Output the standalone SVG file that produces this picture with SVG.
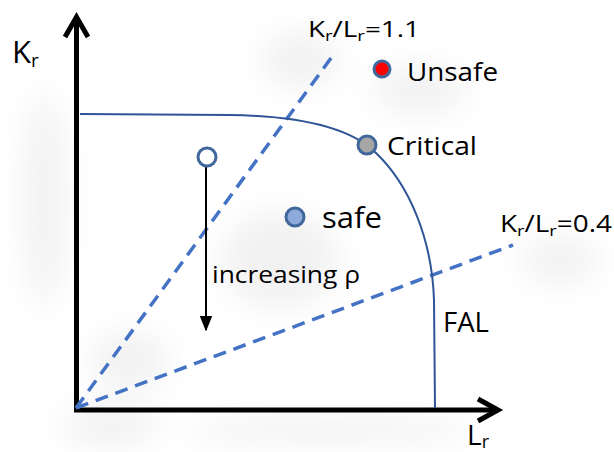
<svg xmlns="http://www.w3.org/2000/svg" width="614" height="452" viewBox="0 0 614 452">
  <style>
    text { font-family: "Open Sans", "Liberation Sans", sans-serif; fill: #000; }
    .axis { stroke: #000; stroke-width: 5; fill: none; }
    .chev { stroke: #000; stroke-width: 5; fill: none; stroke-linecap: butt; stroke-linejoin: miter; }
    .dash { stroke: #4472c4; stroke-width: 3.5; stroke-dasharray: 13 8; fill: none; }
    .fal { stroke: #2f5597; stroke-width: 2; fill: none; }
    .pt { stroke: #41689c; stroke-width: 3; }
  </style>
  <defs>
    <filter id="blur" x="-50%" y="-50%" width="200%" height="200%">
      <feGaussianBlur stdDeviation="16"/>
    </filter>
    <marker id="tri" viewBox="0 0 10 10" refX="9" refY="5" markerWidth="8" markerHeight="8" orient="auto" markerUnits="strokeWidth">
      <path d="M0,1 L10,5 L0,9 z" fill="#000"/>
    </marker>
  </defs>
  <rect width="614" height="452" fill="#fff"/>
  <g id="shadows" filter="url(#blur)" fill="#000" opacity="0.05">
    <ellipse cx="110" cy="425" rx="50" ry="22"/>
    <ellipse cx="330" cy="430" rx="150" ry="14"/>
    <ellipse cx="45" cy="200" rx="22" ry="110"/>
    <ellipse cx="300" cy="60" rx="40" ry="30"/>
    <ellipse cx="420" cy="90" rx="50" ry="25"/>
    <ellipse cx="280" cy="260" rx="60" ry="50"/>
    <ellipse cx="560" cy="260" rx="40" ry="25"/>
    <ellipse cx="130" cy="360" rx="40" ry="30"/>
  </g>
  <g id="axes">
    <line class="axis" x1="76.5" y1="412" x2="76.5" y2="18"/>
    <polyline class="chev" points="65,37 76.5,17 88,37"/>
    <line class="axis" x1="74" y1="410" x2="497" y2="410"/>
    <polyline class="chev" points="478,399 498,410 478,421"/>
  </g>
  <g id="connectors">
    <line class="dash" x1="76" y1="408" x2="334" y2="54"/>
    <line class="dash" x1="76" y1="408" x2="513" y2="245"/>
    <path class="fal" d="M80,114 L230,115 C300,116 350,128 375,152 C410,185 432,240 434,300 L435,408"/>
    <line x1="206" y1="166" x2="206" y2="330" stroke="#000" stroke-width="2" marker-end="url(#tri)"/>
  </g>
  <g id="unsafe">
    <circle class="pt" cx="382" cy="69" r="8" fill="#ff0000"/>
    <text x="407" y="81" font-size="25" textLength="91" lengthAdjust="spacingAndGlyphs">Unsafe</text>
  </g>
  <g id="critical">
    <circle class="pt" cx="367" cy="145" r="9" fill="#a6a6a6"/>
    <text x="387" y="155" font-size="25" textLength="90" lengthAdjust="spacingAndGlyphs">Critical</text>
  </g>
  <g id="safe">
    <circle class="pt" cx="295" cy="217" r="9" fill="#8eaadb"/>
    <text x="322" y="228" font-size="29" textLength="60" lengthAdjust="spacingAndGlyphs">safe</text>
  </g>
  <g id="start">
    <circle class="pt" cx="207" cy="157" r="9" fill="#fff"/>
    <text x="212" y="283" font-size="23" textLength="148" lengthAdjust="spacingAndGlyphs">increasing ρ</text>
  </g>
  <g id="labels">
    <text x="12" y="63" font-size="31">K<tspan font-size="19" dy="4">r</tspan></text>
    <text x="308" y="37" font-size="21" textLength="112" lengthAdjust="spacingAndGlyphs">K<tspan font-size="14" dy="4">r</tspan><tspan dy="-4">/L</tspan><tspan font-size="14" dy="4">r</tspan><tspan dy="-4">=1.1</tspan></text>
    <text x="500" y="232" font-size="23" textLength="112" lengthAdjust="spacingAndGlyphs">K<tspan font-size="15" dy="4">r</tspan><tspan dy="-4">/L</tspan><tspan font-size="15" dy="4">r</tspan><tspan dy="-4">=0.4</tspan></text>
    <text x="467" y="445" font-size="28">L<tspan font-size="18" dy="3">r</tspan></text>
    <text x="443" y="332" font-size="27" textLength="46" lengthAdjust="spacingAndGlyphs">FAL</text>
  </g>
</svg>
